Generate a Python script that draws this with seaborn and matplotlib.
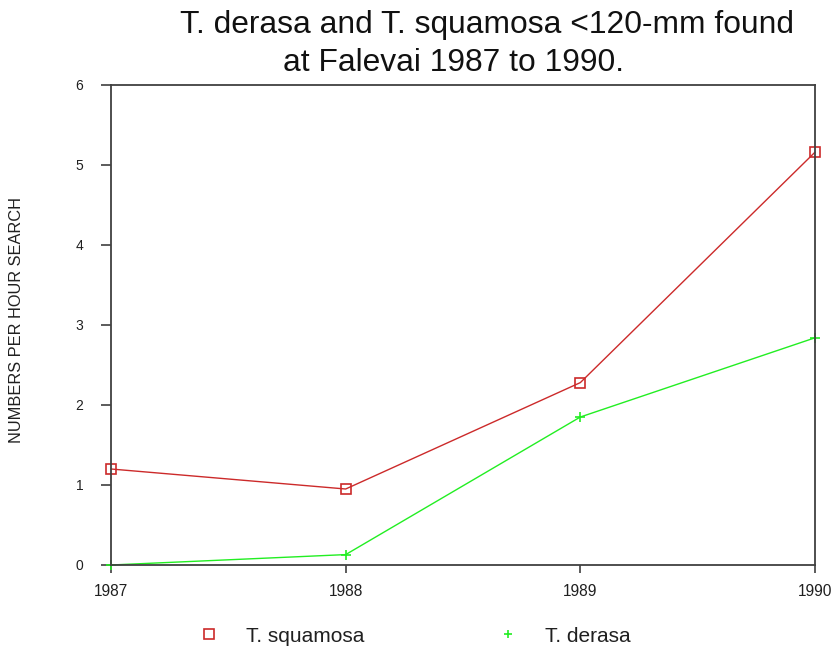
import matplotlib
matplotlib.use("Agg")
import matplotlib.pyplot as plt
from matplotlib.lines import Line2D
import seaborn as sns
import pandas as pd

years = [1987, 1988, 1989, 1990]
squamosa = [1.20, 0.95, 2.28, 5.16]
derasa = [0.00, 0.13, 1.85, 2.84]
series_names = ["T. squamosa", "T. derasa"]
title_line1 = "T. derasa and T. squamosa <120-mm found"
title_line2 = "at Falevai 1987 to 1990."
ylabel = "NUMBERS PER HOUR SEARCH"
yticks = [0, 1, 2, 3, 4, 5, 6]

df = pd.DataFrame({
    "year": years * 2,
    "value": squamosa + derasa,
    "species": [series_names[0]] * len(years) + [series_names[1]] * len(years),
})

sns.set_style("white")
plt.rcParams["font.family"] = ["Liberation Sans", "DejaVu Sans"]

colors = {"T. squamosa": "#CC2A2A", "T. derasa": "#22EE22"}

fig = plt.figure(figsize=(8.31, 6.54), dpi=100)
ax = fig.add_axes([111 / 831, 89 / 654, (815 - 111) / 831, (565 - 85) / 654])

sns.lineplot(data=df[df.species == "T. squamosa"], x="year", y="value",
             color=colors["T. squamosa"], marker="s", markersize=7,
             markerfacecolor="none", markeredgecolor=colors["T. squamosa"],
             markeredgewidth=1.2, linewidth=1.0, ax=ax, clip_on=False, legend=False)
sns.lineplot(data=df[df.species == "T. derasa"], x="year", y="value",
             color=colors["T. derasa"], marker="+", markersize=7,
             markeredgecolor=colors["T. derasa"], markeredgewidth=1.2,
             linewidth=1.0, ax=ax, clip_on=False, legend=False)

ax.set_xlim(1987, 1990)
ax.set_ylim(0, 6)
ax.set_xticks(years)
ax.set_xticklabels([str(y) for y in years])
ax.set_yticks(yticks)
ax.set_xlabel("")
ax.set_ylabel("")
for s in ax.spines.values():
    s.set_color("#404040")
    s.set_linewidth(1.3)
ax.tick_params(axis="y", direction="out", length=7, width=1.2, color="#404040",
               pad=13, labelsize=10, labelcolor="#202020", left=True)
ax.tick_params(axis="x", direction="out", length=6, width=1.2, color="#404040",
               pad=8, labelsize=11.2, labelcolor="#202020", bottom=True)

fig.text(17 / 831, 1 - 320 / 654, ylabel, rotation=90, ha="center", va="center",
         fontsize=11.8, color="#202020")

fig.text(180 / 831, 1 - 25 / 654, title_line1, ha="left", va="center",
         fontsize=22.9, color="#111111")
fig.text(283 / 831, 1 - 63 / 654, title_line2, ha="left", va="center",
         fontsize=22.9, color="#111111")

h_sq = Line2D([], [], linestyle="none", marker="s", markersize=7, markerfacecolor="none",
              markeredgecolor=colors["T. squamosa"], markeredgewidth=1.2)
h_de = Line2D([], [], linestyle="none", marker="+", markersize=6,
              markeredgecolor=colors["T. derasa"], markeredgewidth=1.2)
fs = 15
em = fs * 100 / 72
for h, name, mx in [(h_sq, series_names[0], 209), (h_de, series_names[1], 508)]:
    fig.legend([h], [name], loc="center left",
               bbox_to_anchor=((mx - em * 0.5) / 831, 1 - 636 / 654),
               frameon=False, fontsize=fs, handlelength=1.0,
               handletextpad=(37 - em * 0.5) / em, borderpad=0, borderaxespad=0,
               labelcolor="#202020")

fig.savefig("out.png", dpi=100, facecolor="white")
